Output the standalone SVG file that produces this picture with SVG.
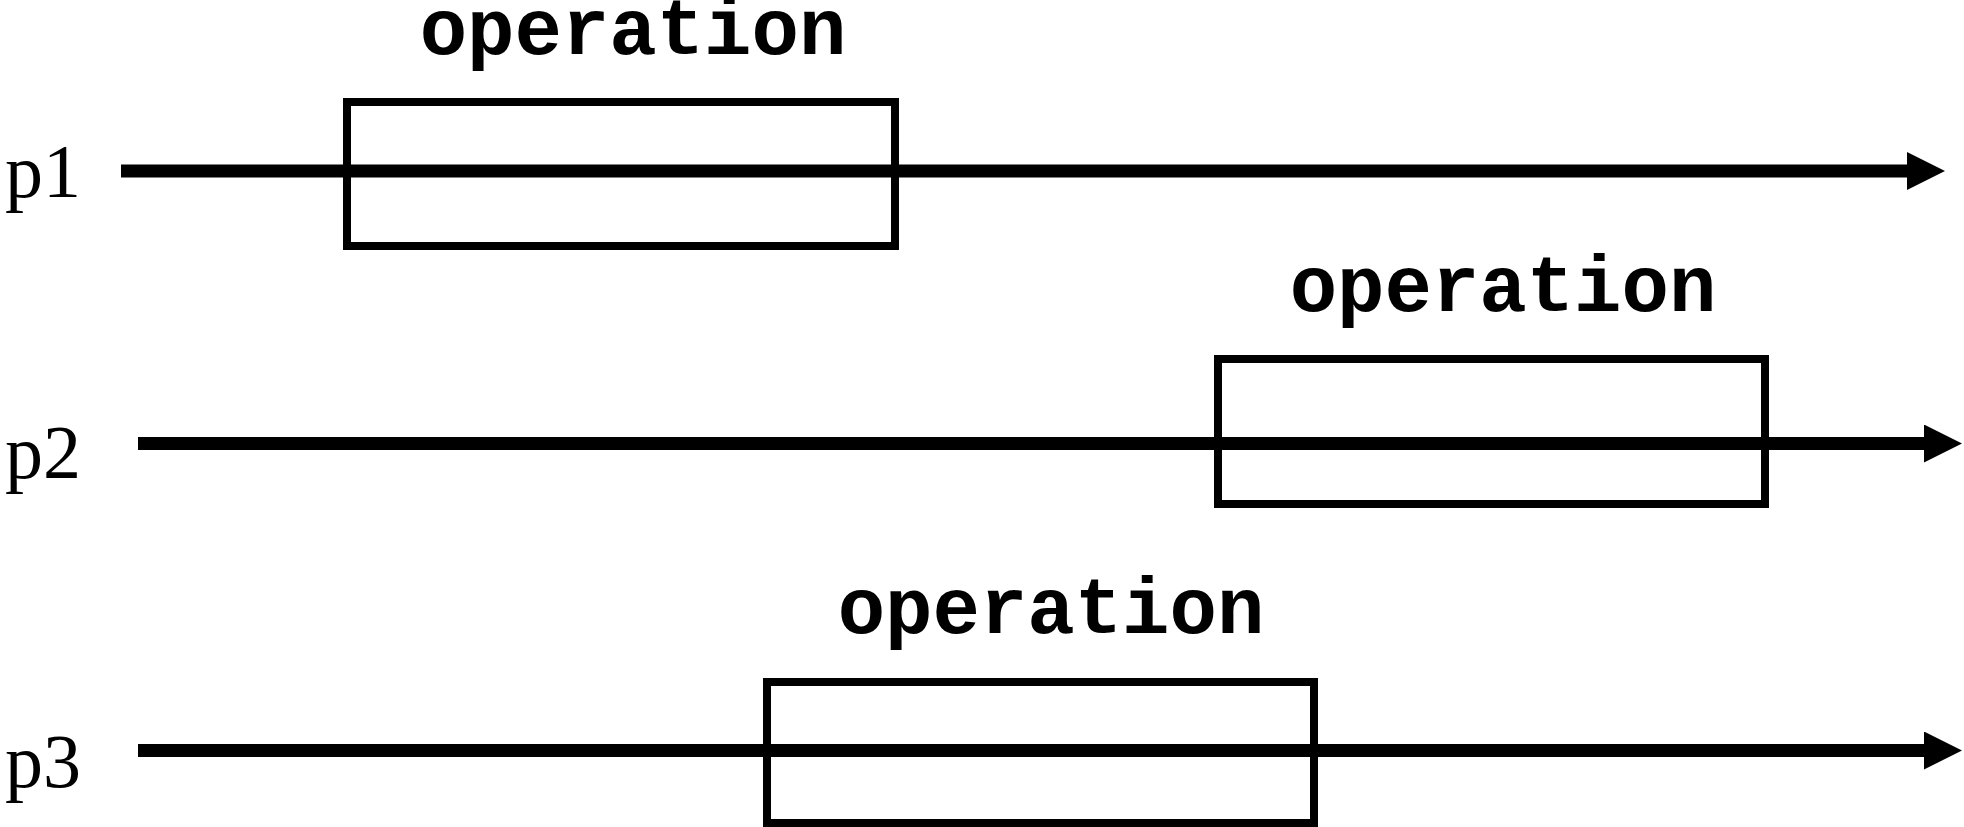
<svg xmlns="http://www.w3.org/2000/svg" width="1964" height="827" viewBox="0 0 1964 827">
<style>
.lbl{font-family:"Liberation Serif","Times New Roman",serif;font-size:76px;fill:#000}
.op{font-family:"Liberation Mono","Courier New",monospace;font-size:79px;font-weight:bold;fill:#000;text-anchor:middle}
.box{fill:none;stroke:#000;stroke-width:8}
.tl{stroke:#000;stroke-width:13;fill:none}
</style>
<defs>
<marker id="ah" markerUnits="userSpaceOnUse" markerWidth="40" markerHeight="40" refX="0" refY="19" orient="auto">
<path d="M0,0 L38,19 L0,38 Z" fill="#000"/>
</marker>
</defs>
<rect width="1964" height="827" fill="#fff"/>
<g id="connectors">
<line class="tl" x1="121" y1="171" x2="1907" y2="171" marker-end="url(#ah)"/>
<line class="tl" x1="138" y1="443.5" x2="1924" y2="443.5" marker-end="url(#ah)"/>
<line class="tl" x1="138" y1="750.5" x2="1924" y2="750.5" marker-end="url(#ah)"/>
</g>
<g id="label-p1"><text class="lbl" x="5" y="197">p1</text></g>
<g id="label-p2"><text class="lbl" x="5" y="478">p2</text></g>
<g id="label-p3"><text class="lbl" x="5" y="787">p3</text></g>
<g id="op1">
<rect class="box" x="347" y="102" width="548" height="144"/>
<text class="op" x="633" y="54">operation</text>
</g>
<g id="op2">
<rect class="box" x="1218" y="359" width="547" height="145"/>
<text class="op" x="1503" y="311">operation</text>
</g>
<g id="op3">
<rect class="box" x="767" y="682" width="547" height="141"/>
<text class="op" x="1051" y="633">operation</text>
</g>
</svg>
